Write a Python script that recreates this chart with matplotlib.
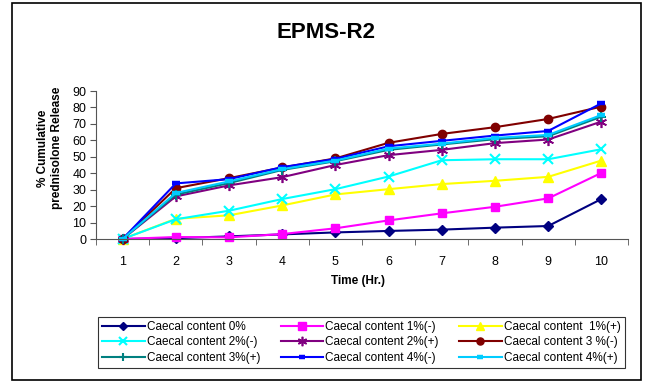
import matplotlib
matplotlib.use("Agg")
import matplotlib.pyplot as plt
from matplotlib.patches import Rectangle

plt.rcParams['font.family'] = ['Liberation Sans', 'DejaVu Sans']

time = [1, 2, 3, 4, 5, 6, 7, 8, 9, 10]
labels = ["Caecal content 0%", "Caecal content 1%(-)", "Caecal content  1%(+)",
          "Caecal content 2%(-)", "Caecal content 2%(+)", "Caecal content 3 %(-)",
          "Caecal content 3%(+)", "Caecal content 4%(-)", "Caecal content 4%(+)"]
cc0 = [0, 0.5, 1.6, 2.8, 4.0, 4.9, 5.7, 6.9, 7.9, 24.3]
cc1m = [0, 1.2, 1.0, 3.0, 6.5, 11.3, 15.6, 19.6, 24.7, 40.2]
cc1p = [0, 12.3, 14.4, 20.4, 27.1, 30.3, 33.4, 35.4, 37.8, 47.7]
cc2m = [0, 12.0, 17.2, 24.3, 30.3, 38.0, 47.9, 48.5, 48.5, 54.6]
cc2p = [0, 25.9, 32.6, 37.6, 45.0, 51.0, 54.2, 58.3, 60.5, 71.4]
cc3m = [0, 30.9, 37.0, 43.5, 49.0, 58.5, 63.9, 68.0, 73.0, 80.5]
cc3p = [0, 27.0, 34.0, 42.0, 47.3, 54.2, 57.5, 60.7, 62.5, 74.4]
cc4m = [0, 33.8, 36.4, 43.7, 48.7, 56.4, 59.7, 62.9, 65.7, 82.5]
cc4p = [0, 28.0, 35.0, 42.5, 47.7, 55.0, 58.0, 61.5, 63.3, 75.4]
series = [cc0, cc1m, cc1p, cc2m, cc2p, cc3m, cc3p, cc4m, cc4p]

colors = ['#000080', '#FF00FF', '#FFFF00', '#00FFFF', '#800080', '#800000',
          '#008080', '#0000FF', '#00CCFF']
markers = ['D', 's', '^', 'x', (6, 2, 0), 'o', '+', '_', '_']
msizes = [5, 6, 6.5, 7.5, 8, 6, 7.5, 5.5, 5.5]

fig = plt.figure(figsize=(6.49, 3.83), dpi=100)
W, H = 649, 383
fig.patches.append(Rectangle((12 / W, 1 - 380 / H), (641 - 12) / W, (380 - 3) / H,
                             transform=fig.transFigure, fill=False,
                             edgecolor='black', linewidth=1.2))

ax = fig.add_axes([96 / W, 1 - 239 / H, (628 - 96) / W, (239 - 91) / H])
handles = []
for y, c, m, ms, lab in zip(series, colors, markers, msizes, labels):
    kw = dict(color=c, marker=m, markersize=ms, linewidth=1.5, label=lab,
              markerfacecolor=c, markeredgecolor=c, clip_on=False)
    if m == '_':
        kw['markeredgewidth'] = 3.2
    if m in ('x', '+'):
        kw['markeredgewidth'] = 1.5
    if m == (6, 2, 0):
        kw['markeredgewidth'] = 1.2
    h, = ax.plot(time, y, **kw)
    handles.append(h)

ax.set_xlim(0.5, 10.5)
ax.set_ylim(0, 90)
ax.set_yticks(range(0, 91, 10))
ax.set_xticks(time)
ax.set_xticks([t + 0.5 for t in range(0, 11)], minor=True)
ax.tick_params(axis='x', which='major', length=0, labelsize=9, pad=12)
ax.tick_params(axis='x', which='minor', length=4, direction='out')
ax.tick_params(axis='y', length=4, direction='out', labelsize=9, pad=3)
for s in ['top', 'right']:
    ax.spines[s].set_visible(False)
for s in ['left', 'bottom']:
    ax.spines[s].set_color('#555555')
ax.tick_params(colors='#555555', which='both', labelcolor='black')

fig.text(326 / W, 1 - 33 / H, 'EPMS-R2', ha='center', va='center',
         fontsize=16, fontweight='bold')
fig.text(358 / W, 1 - 281 / H, 'Time (Hr.)', ha='center', va='center',
         fontsize=8.5, fontweight='bold')
fig.text(50 / W, 1 - 148 / H, '% Cumulative\nprednisolone Release', ha='center',
         va='center', rotation=90, fontsize=8.5, fontweight='bold', linespacing=1.15)

order = [0, 3, 6, 1, 4, 7, 2, 5, 8]
x0, x1, y0, y1 = 98, 625, 311, 374
leg = fig.legend(handles=[handles[i] for i in order],
                 labels=[labels[i] for i in order],
                 loc='center', mode='expand',
                 bbox_to_anchor=(x0 / W, 1 - y1 / H, (x1 - x0) / W, (y1 - y0) / H),
                 ncol=3, fontsize=8.5, frameon=True, fancybox=False,
                 handlelength=3.6, handletextpad=0.2, columnspacing=0.4,
                 labelspacing=0.3, borderpad=0.35, borderaxespad=0,
                 markerscale=0.85)
leg.get_frame().set_edgecolor('black')
leg.get_frame().set_linewidth(0.8)

fig.savefig('out.png', dpi=100)
